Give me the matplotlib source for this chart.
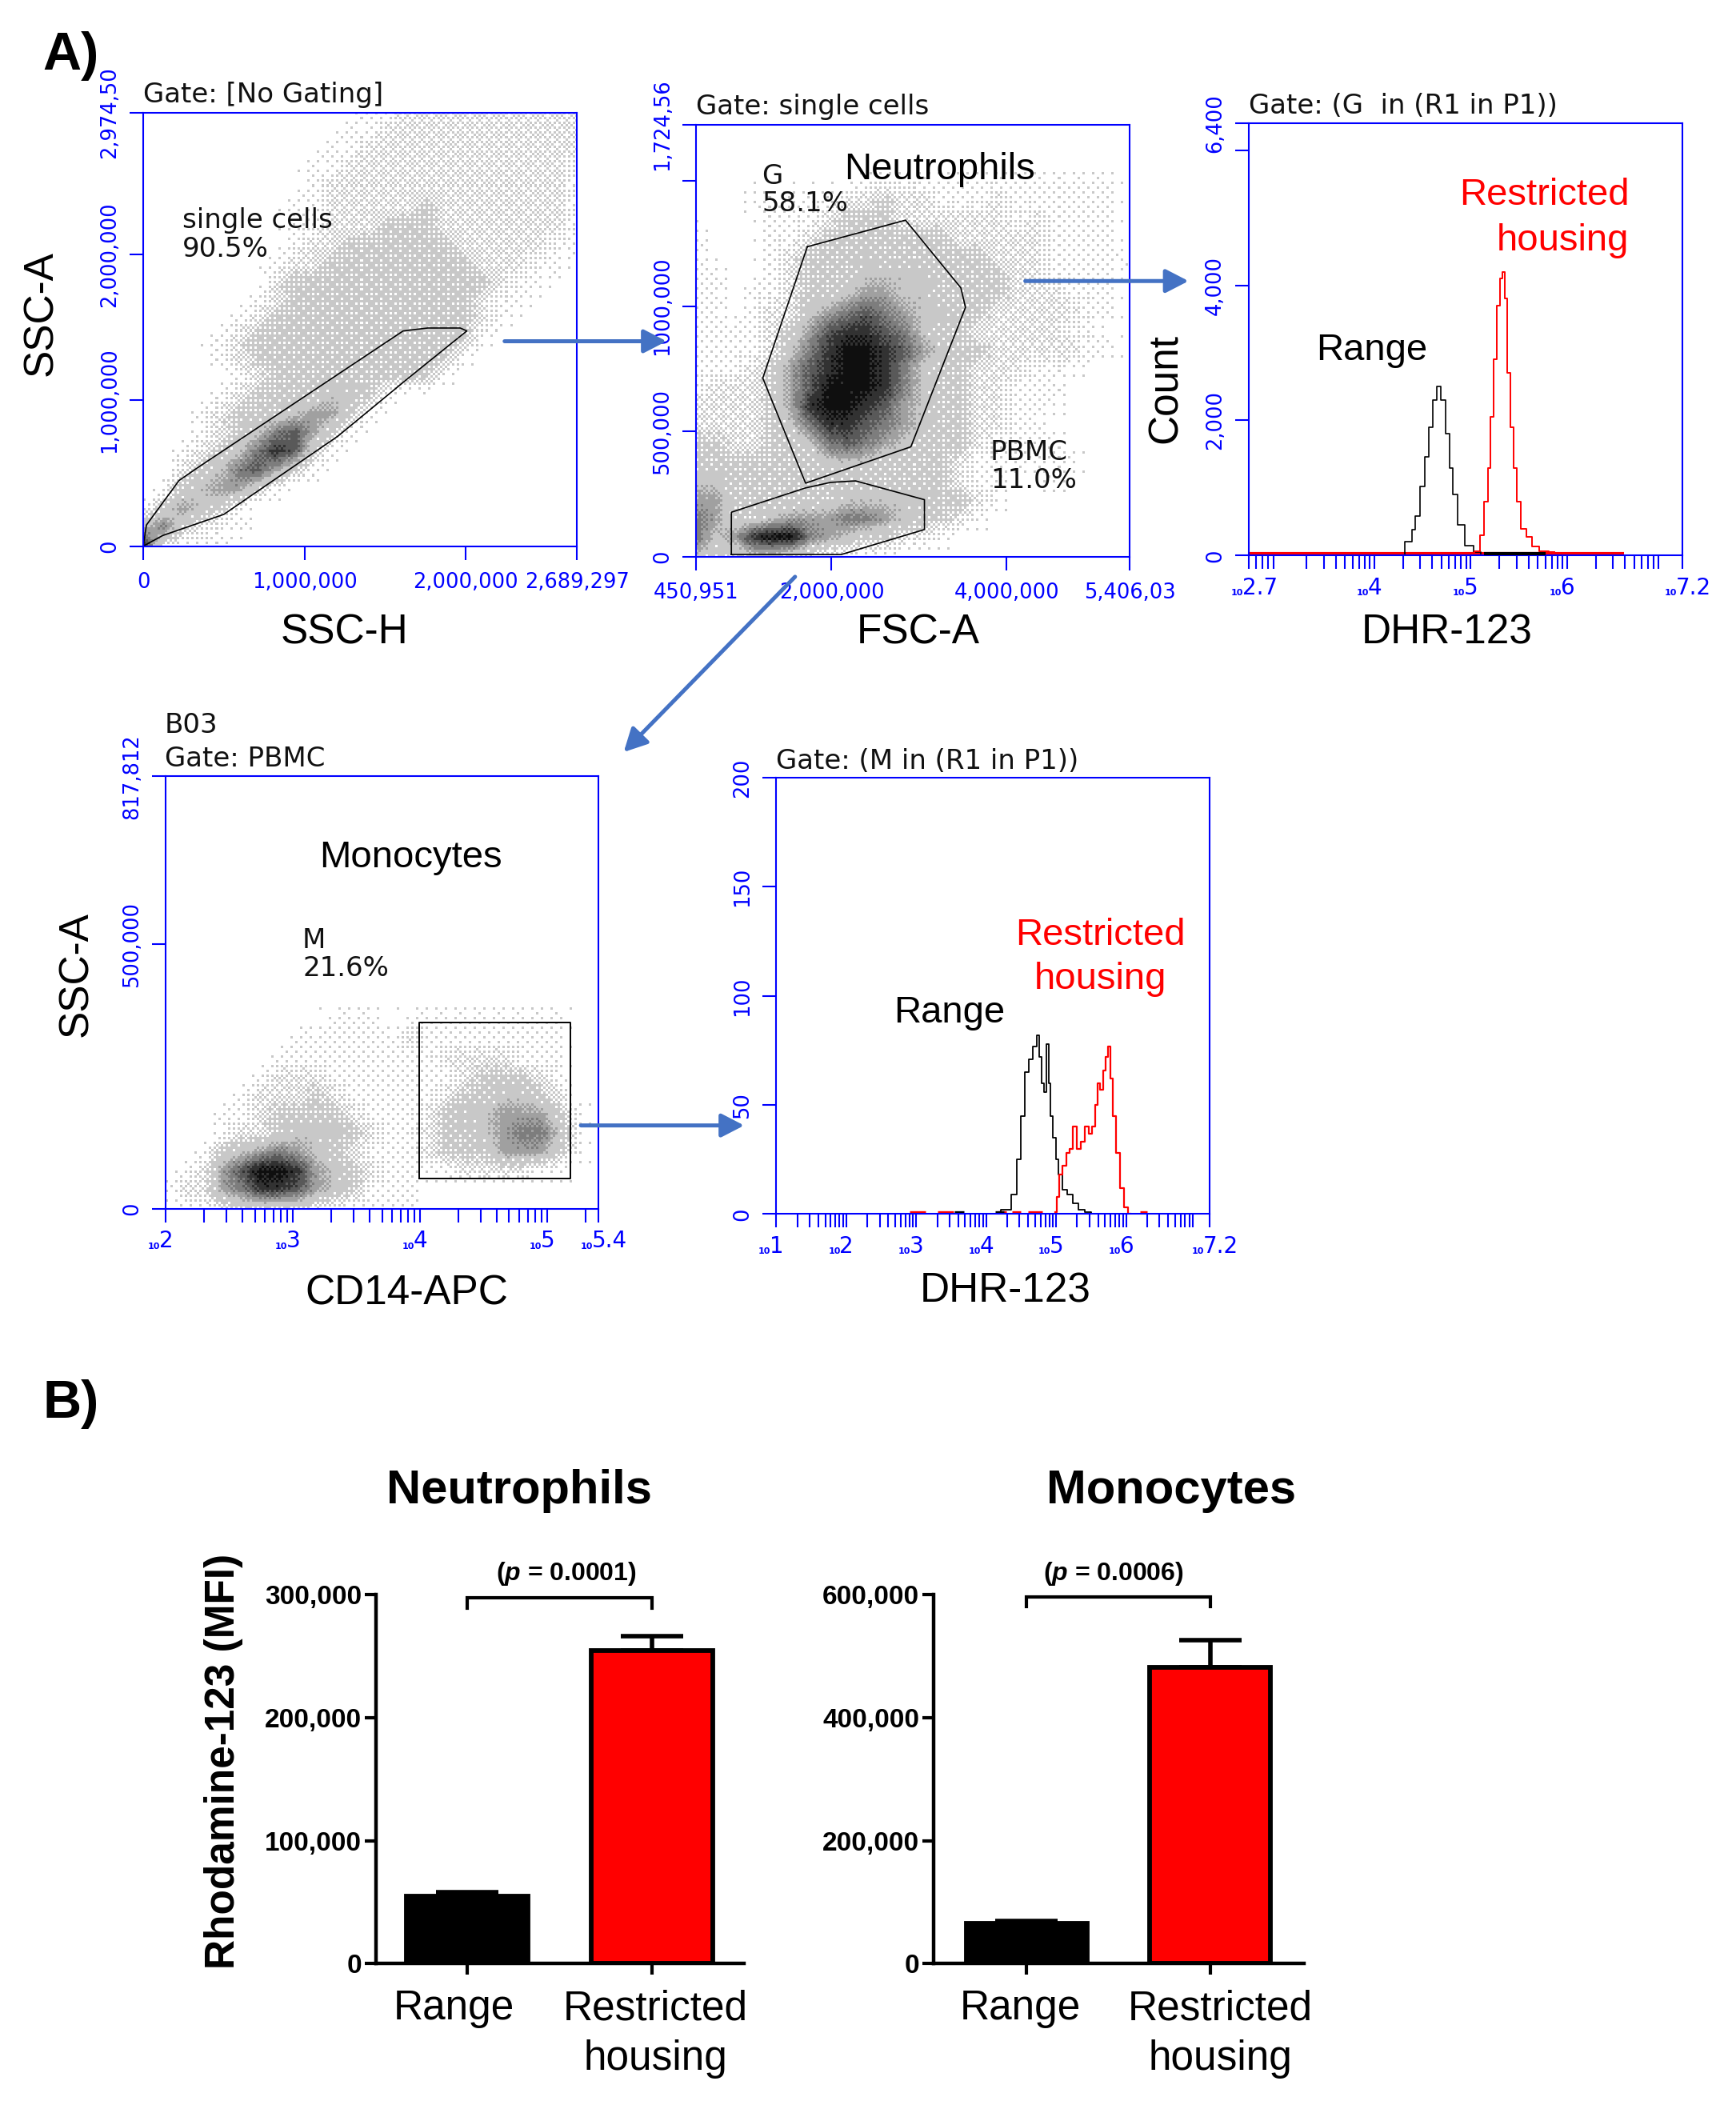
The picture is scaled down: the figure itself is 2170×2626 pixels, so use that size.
import numpy as np
import matplotlib
matplotlib.use('Agg')
import matplotlib.pyplot as plt
from matplotlib.transforms import ScaledTranslation

plt.rcParams['font.family'] = ['Liberation Sans', 'DejaVu Sans']
plt.rcParams['mathtext.fontset'] = 'custom'
plt.rcParams['mathtext.bfit'] = 'Liberation Sans:italic:bold'
plt.rcParams['mathtext.rm'] = 'Liberation Sans:bold'

# density, one digit per cell (0 empty .. 9 black), top row first
ssc_density = [
    "000000000000112222222222",
    "000000000001122222222222",
    "000000000011222222222222",
    "000000000112222222222221",
    "000000000122222222222221",
    "000000001122222322222221",
    "000000001122233322222221",
    "000000001223333332222211",
    "000000012233333333222110",
    "000000023333333333321100",
    "000000123333333333211000",
    "000001233333333333210000",
    "000012333333333333100000",
    "000012333333333331000000",
    "000001233333333310000000",
    "000012333344310000000000",
    "000123334553100000000000",
    "000123467531000000000000",
    "001234687310000000000000",
    "002346753100000000000000",
    "013455310000000000000000",
    "135431000000000000000000",
    "463211000000000000000000",
    "821110000000000000000000",
]
fsc_density = [
    "000000000000000000000000",
    "000000000000000000000000",
    "000000000000000000000000",
    "000000000111111111111110",
    "000111112232211121111110",
    "000011123332222221211110",
    "100011233333332222211110",
    "100012333433333322211111",
    "110012333444433332211110",
    "110112334554433332221110",
    "110122456765443322222110",
    "111123578876433222221100",
    "111124689987543322222110",
    "111235789986433222111000",
    "122235799986433221110000",
    "222235899875433221110000",
    "222234688765433221100000",
    "332233467654333211110000",
    "333333344433332111111000",
    "443333333333332110010000",
    "553333334444433210000000",
    "653345556654332100000000",
    "645899654332210000000000",
    "433443211110000000000000",
]
cd14_density = [
    "000000000000000000000000",
    "000000000000000000000000",
    "000000000000000000000000",
    "000000000000000000000000",
    "000000000000000000000000",
    "000000000000000000000000",
    "000000000000000000000000",
    "000000000000000000000000",
    "000000000000000000000000",
    "000000000000000000000000",
    "000000000000000000000000",
    "000000000000000000000000",
    "000000000000000000000000",
    "000000000111011111111100",
    "000000011111121111111100",
    "000000111111111222211100",
    "000001222111111123332100",
    "000012223211111233443200",
    "000112333321112344555310",
    "000122344432112334566410",
    "001345654321112333555310",
    "012579985432111122221100",
    "122568875431110000000000",
    "011233332111110000000000",
]

# gates
single_gate_x = [0, 20000, 222000, 336000, 1612000, 1764000, 1966000, 2007000, 1638000, 1208000, 500000, 121000, 0]
single_gate_y = [0, 145000, 450000, 537000, 1476000, 1496000, 1496000, 1476000, 1147000, 755000, 218000, 73000, 0]
g_gate_x = [1723000, 2845000, 3477000, 3530000, 2906000, 1703000, 1214000, 1723000]
g_gate_y = [1237000, 1343000, 1073000, 995000, 439000, 294000, 713000, 1237000]
pbmc_gate_x = [855000, 855000, 1703000, 1988000, 2274000, 3061000, 3061000, 2111000, 855000]
pbmc_gate_y = [9400, 178000, 275000, 297000, 303000, 228000, 109000, 9400, 9400]
m_gate_x = [3.99, 5.18, 5.18, 3.99, 3.99]
m_gate_y = [57700, 57700, 352000, 352000, 57700]

# histograms (log10 of DHR-123, count)
neut_range_x = [4.27, 4.37, 4.41, 4.45, 4.51, 4.55, 4.59, 4.63, 4.67, 4.72, 4.76, 4.80, 4.84, 4.90, 4.98, 5.08, 5.14]
neut_range_y = [0, 210, 380, 590, 1020, 1456, 1900, 2300, 2500, 2300, 1800, 1300, 900, 450, 150, 50, 0]
neut_restr_x = [5.00, 5.08, 5.12, 5.16, 5.20, 5.22, 5.26, 5.29, 5.32, 5.34, 5.37, 5.40, 5.43, 5.47, 5.50, 5.55, 5.61, 5.67, 5.75, 5.87]
neut_restr_y = [40, 60, 300, 800, 1300, 2050, 2900, 3700, 4100, 4200, 3800, 2700, 1900, 1300, 800, 400, 280, 130, 60, 50]
mono_range_x = [4.13, 4.30, 4.41, 4.47, 4.53, 4.58, 4.64, 4.70, 4.74, 4.77, 4.81, 4.85, 4.88, 4.91, 4.93, 4.98, 5.01, 5.06, 5.12, 5.20, 5.27, 5.36, 5.47, 5.53]
mono_range_y = [0, 2, 9, 25, 45, 65, 71, 77, 82, 72, 60, 56, 78, 60, 45, 35, 25, 18, 11, 9, 5, 2, 1, 0]
mono_restr_x = [4.99, 5.02, 5.06, 5.12, 5.18, 5.21, 5.27, 5.32, 5.39, 5.44, 5.49, 5.53, 5.58, 5.61, 5.65, 5.69, 5.73, 5.76, 5.79, 5.83, 5.89, 5.94, 6.00, 6.06]
mono_restr_y = [1, 8, 18, 22, 28, 30, 40, 30, 33, 40, 37, 40, 50, 60, 57, 66, 72, 77, 62, 45, 28, 12, 3, 0]
mono_restr_bits = [(2.91, 3.14), (3.31, 3.54), (4.17, 4.29), (4.37, 4.49), (4.60, 4.80), (6.2, 6.3)]
mono_range_bits = [(3.55, 3.68), (4.13, 4.25)]

# bars
groups = ['Range', 'Restricted\nhousing']
neut_mean = [55000, 254000]
neut_err = [3000, 12000]
mono_mean = [66000, 481000]
mono_err = [4000, 45000]

SCALE = 2170 / 1297
W, H = 2170, 2626
BLUE = '#0000ff'
ARROW = '#4472C4'
PIXEL = 'DejaVu Sans'

fig = plt.figure(figsize=(W / 100, H / 100), dpi=100, facecolor='white')


def place(l, t, r, b):
    # overview picture coordinates -> axes
    return fig.add_axes([l * SCALE / W, 1 - b * SCALE / H, (r - l) * SCALE / W, (b - t) * SCALE / H])


def flow_axes(l, t, r, b, xlim, ylim, yticks, ylabels):
    ax = place(l, t, r, b)
    ax.set_xlim(xlim)
    ax.set_ylim(ylim)
    for s in ax.spines.values():
        s.set_color(BLUE)
        s.set_linewidth(1.5)
    ax.set_yticks(yticks)
    ax.set_yticklabels(ylabels, rotation=90, va='center', family=PIXEL, fontsize=18.5, color=BLUE)
    ax.tick_params(axis='y', length=12, width=1.5, color=BLUE, pad=9)
    ax.tick_params(axis='x', length=12, width=1.5, color=BLUE, pad=11)
    ax.tick_params(axis='x', which='minor', length=12, width=1.5, color=BLUE)
    return ax


# ordered halftone screen, so the typed density prints as dots like the cytometer's plot
screen = np.array([[0]])
for _ in range(3):
    screen = np.block([[4 * screen, 4 * screen + 2], [4 * screen + 3, 4 * screen + 1]])
screen = (screen + 0.5) / 64
GRAYS = [200, 160, 125, 90, 50, 15]


def density(ax, rows, xlim, ylim, cells=180):
    grid = np.array([[int(c) for c in row] for row in rows], dtype=float)
    pos = np.linspace(0, grid.shape[0] - 1, cells)
    idx = np.arange(grid.shape[0])
    fine = np.array([np.interp(pos, idx, row) for row in grid])
    fine = np.array([np.interp(pos, idx, col) for col in fine.T]).T
    tile = np.tile(screen, (cells // 8 + 1, cells // 8 + 1))[:cells, :cells]
    dots = np.where(np.interp(fine, [0, 1, 2, 3, 4], [0, .12, .4, .85, 1]) > tile, GRAYS[0], 255.0)
    dark = np.clip(fine - 4, 0, 5)
    low = np.floor(dark).astype(int)
    high = np.minimum(low + 1, 5)
    shade = np.where(dark - low > tile, np.take(GRAYS, high), np.take(GRAYS, low))
    dots = np.where(fine >= 4, shade, dots)
    ax.imshow(dots, extent=[xlim[0], xlim[1], ylim[0], ylim[1]], origin='upper', aspect='auto',
              cmap='gray', vmin=0, vmax=255, interpolation='nearest')
    ax.set_xlim(xlim)
    ax.set_ylim(ylim)


def log_axis(ax, decades, last):
    # log10 scale drawn on linear axis, the way the cytometer prints it
    lo, hi = ax.get_xlim()
    minors = []
    for k in range(int(lo) - 1, int(hi) + 1):
        for n in range(2, 10):
            v = k + np.log10(n)
            if lo < v < hi:
                minors.append(v)
    ax.set_xticks(decades + [last, lo])
    ax.set_xticklabels([])
    ax.set_xticks(minors, minor=True)
    for v in decades + [lo, last]:
        exp = ('%.1f' % v).rstrip('0').rstrip('.')
        ax.annotate('10', xy=(v, 0), xycoords=ax.get_xaxis_transform(), xytext=(-5, -36),
                    textcoords='offset points', ha='right', family=PIXEL, fontsize=8, color=BLUE,
                    fontweight='bold')
        ax.annotate(exp, xy=(v, 0), xycoords=ax.get_xaxis_transform(), xytext=(-6, -35),
                    textcoords='offset points', ha='left', family=PIXEL, fontsize=20, color=BLUE)


# panel 1
xl, yl = (0, 2689297), (0, 2974500)
ax1 = flow_axes(107, 84, 431, 408, xl, yl, [0, 1000000, 2000000, 2974500], ['0', '1,000,000', '2,000,000', '2,974,50'])
density(ax1, ssc_density, xl, yl)
ax1.plot(single_gate_x, single_gate_y, color='black', lw=1.2)
ax1.set_xticks([0, 1000000, 2000000, 2689297])
ax1.set_xticklabels(['0', '1,000,000', '2,000,000', '2,689,297'], family=PIXEL, fontsize=18.5, color=BLUE)

# panel 2
xl, yl = (450951, 5406030), (0, 1724560)
ax2 = flow_axes(520, 93, 844, 416, xl, yl, [0, 500000, 1000000, 1500000, 1724560], ['0', '500,000', '1000,000', '', '1,724,56'])
density(ax2, fsc_density, xl, yl)
ax2.plot(g_gate_x, g_gate_y, color='black', lw=1.2)
ax2.plot(pbmc_gate_x, pbmc_gate_y, color='black', lw=1.2)
ax2.set_xticks([450951, 2000000, 4000000, 5406030])
ax2.set_xticklabels(['450,951', '2,000,000', '4,000,000', '5,406,03'], family=PIXEL, fontsize=18.5, color=BLUE)

# panel 3
ax3 = flow_axes(933, 92, 1257, 415, (2.7, 7.2), (0, 6400), [0, 2000, 4000, 6000, 6400], ['0', '2,000', '4,000', '', '6,400'])
log_axis(ax3, [4, 5, 6], 7.2)
ax3.hlines(30, 2.7, 6.59, color='red', lw=3)
ax3.hlines(30, 5.14, 5.78, color='black', lw=3, zorder=3)
ax3.step(neut_range_x, neut_range_y, where='mid', color='black', lw=1.2)
ax3.step(neut_restr_x, neut_restr_y, where='mid', color='red', lw=1.4)

# panel 4
xl, yl = (2, 5.4), (0, 817812)
ax4 = flow_axes(124, 580, 447, 903, xl, yl, [0, 500000, 817812], ['0', '500,000', '817,812'])
density(ax4, cd14_density, xl, yl)
log_axis(ax4, [3, 4, 5], 5.4)
ax4.plot(m_gate_x, m_gate_y, color='black', lw=1.4)

# panel 5
ax5 = flow_axes(580, 581, 904, 907, (1, 7.2), (0, 200), [0, 50, 100, 150, 200], ['0', '50', '100', '150', '200'])
log_axis(ax5, [2, 3, 4, 5, 6], 7.2)
for a, b in mono_restr_bits:
    ax5.hlines(1, a, b, color='red', lw=2.4)
for a, b in mono_range_bits:
    ax5.hlines(1, a, b, color='black', lw=2.4)
ax5.step(mono_range_x, mono_range_y, where='mid', color='black', lw=1.3)
ax5.step(mono_restr_x, mono_restr_y, where='mid', color='red', lw=1.6)


def bar_axes(l, t, r, b, xlim, means, errs, ymax, yticks, bracket, bracket_drop, shifts):
    ax = place(l, t, r, b)
    ax.bar([0, 1], means, width=0.66, color=['black', 'red'], edgecolor='black', linewidth=4.2, zorder=2)
    ax.errorbar([0, 1], means, yerr=[[0, 0], errs], fmt='none', ecolor='black', elinewidth=4,
                capsize=28, capthick=4, zorder=1)
    ax.set_xlim(xlim)
    ax.set_ylim(0, ymax)
    for s in ['top', 'right']:
        ax.spines[s].set_visible(False)
    for s in ['left', 'bottom']:
        ax.spines[s].set_linewidth(3.2)
    ax.set_yticks(yticks)
    ax.set_yticklabels(['{:,}'.format(v) for v in yticks], fontweight='bold', fontsize=24)
    ax.set_xticks([0, 1])
    ax.set_xticklabels(groups, fontsize=37, linespacing=1.35)
    ax.tick_params(axis='both', width=3, length=10, pad=3)
    ax.tick_params(axis='x', pad=13)
    for lab, dx in zip(ax.get_xticklabels(), shifts):
        lab.set_transform(lab.get_transform() + ScaledTranslation(dx / 72, 0, fig.dpi_scale_trans))
    ax.plot([0, 0, 1, 1], [bracket - bracket_drop, bracket, bracket, bracket - bracket_drop], color='black',
            lw=3, clip_on=False, solid_joinstyle='miter')
    return ax


ax6 = bar_axes(281, 1191, 556, 1467, (-0.493, 1.5), neut_mean, neut_err, 300000, [0, 100000, 200000, 300000], 297000, 8000, [-12, 3])
ax7 = bar_axes(697.6, 1191, 974, 1467, (-0.507, 1.51), mono_mean, mono_err, 600000, [0, 200000, 400000, 600000], 596000, 16000, [-6, 9])

# everything drawn between the panels goes on one sheet in overview coordinates
ov = fig.add_axes([0, 0, 1, 1], zorder=10)
ov.set_xlim(0, 1297)
ov.set_ylim(1570, 0)
ov.axis('off')
ov.patch.set_visible(False)

for x0, y0, x1, y1 in [(377, 255, 498, 255), (766, 210, 888, 210), (594, 431, 466, 562), (434, 841, 556, 841)]:
    ov.annotate('', xy=(x1, y1), xytext=(x0, y0),
                arrowprops=dict(arrowstyle='-|>,head_length=0.62,head_width=0.32', color=ARROW, lw=3.6,
                                mutation_scale=28, shrinkA=0, shrinkB=0))

ov.text(32, 42, 'A)', fontsize=48, fontweight='bold', va='center')
ov.text(32, 1049, 'B)', fontsize=48, fontweight='bold', va='center')

# small cytometer print
for x, y, s in [(107, 71, 'Gate: [No Gating]'), (136, 165, 'single cells'), (136, 186, '90.5%'),
                (520, 80, 'Gate: single cells'), (569, 132, 'G'), (569, 152, '58.1%'),
                (740, 338, 'PBMC'), (740, 359, '11.0%'),
                (933, 79, 'Gate: (G  in (R1 in P1))'),
                (123, 542, 'B03'), (123, 567, 'Gate: PBMC'), (226, 703, 'M'), (226, 724, '21.6%'),
                (580, 569, 'Gate: (M in (R1 in P1))')]:
    ov.text(x, y, s, family=PIXEL, fontsize=24.5, va='center', color='#111111')

# axis names
for x, y, s in [(257, 473, 'SSC-H'), (686, 473, 'FSC-A'), (1081, 473, 'DHR-123'),
                (304, 967, 'CD14-APC'), (751, 965, 'DHR-123')]:
    ov.text(x, y, s, fontsize=37, ha='center', va='center')
for x, y, s in [(31, 234, 'SSC-A'), (871, 290, 'Count'), (57, 728, 'SSC-A')]:
    ov.text(x, y, s, fontsize=37, ha='center', va='center', rotation=90)

# population names
for x, y, s, c in [(702, 127, 'Neutrophils', 'black'), (307, 641, 'Monocytes', 'black'),
                   (1025, 262, 'Range', 'black'), (709, 757, 'Range', 'black'),
                   (822, 699, 'Restricted', 'red'), (822, 732, 'housing', 'red')]:
    ov.text(x, y, s, fontsize=34, color=c, ha='center', va='center')
ov.text(1217, 146, 'Restricted', fontsize=34, color='red', ha='right', va='center')
ov.text(1217, 180, 'housing', fontsize=34, color='red', ha='right', va='center')

# panel B print
ov.text(388, 1114, 'Neutrophils', fontsize=43, fontweight='bold', ha='center', va='center')
ov.text(875, 1114, 'Monocytes', fontsize=43, fontweight='bold', ha='center', va='center')
ov.text(167, 1316, 'Rhodamine-123 (MFI)', fontsize=37, fontweight='bold', rotation=90, ha='center', va='center')
ov.text(423, 1176, r'($\bfit{p}$ = 0.0001)', fontsize=23, fontweight='bold', ha='center', va='center')
ov.text(832, 1176, r'($\bfit{p}$ = 0.0006)', fontsize=23, fontweight='bold', ha='center', va='center')

fig.savefig('out.png', dpi=100)
